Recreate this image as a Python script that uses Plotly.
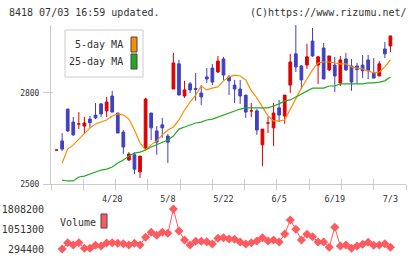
import plotly.graph_objects as go

W, H = 420, 259
def px(x): return x / W
def py(y): return 1 - y / H

# ---------------- data ----------------
day_idx = list(range(61))
opens  = [2612,2642,2747,2704,2698,2691,2714,2727,2764,2741,2790,2734,2671,2579,2596,2540,2619,2734,2675,2695,
          2658,2813,2896,2790,2830,2815,2800,2853,2882,2869,2912,2853,2826,2813,2793,2741,2741,2629,2701,2685,
          2751,2724,2826,2929,2889,2892,2971,2892,2948,2876,2892,2833,2912,2889,2889,2892,2909,2866,2856,2945,2955]
highs  = [2612,2668,2747,2721,2737,2721,2724,2767,2767,2787,2807,2734,2678,2605,2605,2592,2784,2734,2691,2718,
          2665,2932,2909,2840,2836,2866,2826,2882,2896,2922,2919,2859,2843,2843,2793,2767,2747,2681,2721,2767,
          2777,2793,2929,3024,2892,2962,3014,2922,2965,2922,2919,2922,2932,2912,2899,2925,2925,2915,2905,2968,2988]
lows   = [2612,2609,2671,2658,2681,2665,2685,2714,2721,2721,2737,2668,2599,2576,2533,2520,2615,2645,2596,2652,
          2569,2813,2793,2784,2800,2774,2760,2833,2826,2866,2843,2793,2767,2764,2718,2721,2662,2559,2668,2625,
          2704,2698,2800,2869,2813,2879,2919,2830,2846,2873,2803,2823,2873,2807,2830,2849,2846,2849,2856,2915,2935]
closes = [2612,2615,2675,2662,2698,2701,2702,2718,2731,2770,2737,2668,2622,2599,2549,2592,2780,2685,2638,2685,
          2638,2899,2793,2810,2810,2812,2787,2846,2836,2905,2859,2840,2813,2790,2737,2741,2678,2681,2701,2734,
          2727,2793,2902,2886,2843,2919,2922,2919,2846,2922,2856,2909,2876,2836,2877,2873,2873,2849,2896,2929,2988]

ma_idx = list(range(1, 61))
ma5  = [2569,2615,2629,2648,2668,2685,2698,2704,2711,2724,2731,2727,2714,2678,2635,2612,2629,2642,2662,2678,
        2688,2711,2744,2770,2793,2823,2810,2816,2820,2840,2853,2859,2856,2843,2807,2784,2754,2724,2708,2708,
        2711,2747,2780,2816,2846,2876,2899,2902,2902,2899,2896,2896,2886,2882,2879,2873,2866,2869,2886,2909]
ma25 = [2513,2510,2510,2523,2526,2533,2540,2546,2549,2556,2569,2579,2592,2602,2605,2612,2622,2629,2638,2645,
        2658,2681,2688,2695,2701,2704,2711,2714,2721,2727,2734,2741,2747,2751,2751,2751,2751,2751,2757,2764,
        2774,2777,2787,2797,2807,2816,2816,2816,2823,2823,2830,2830,2830,2830,2830,2833,2833,2836,2840,2853]

volume = [294400,532800,445800,532800,320900,320900,434400,407900,521500,532800,510100,495000,445800,510100,445800,
          737200,926400,812900,926400,888600,1808200,975600,635000,445800,585800,585800,570700,483600,699300,722100,
          672900,661500,559300,483600,532800,597200,722100,597200,635000,559300,862100,1391900,1039900,635000,850700,
          759900,559300,559300,358700,1115600,407900,445800,320900,407900,472300,547900,434400,445800,495000,358700]

date_labels = ["4/20", "5/8", "5/22", "6/5", "6/19", "7/3"]
date_label_idx = [10, 20, 30, 40, 50, 60]
price_ticks = [2500, 2800]
vol_ticks = [294400, 1051300, 1808200]

# ---------------- style ----------------
RED, BLUE = "#dd0000", "#4040c0"
ORANGE, GREEN = "#ff8c00", "#22aa22"
VOLC = "#ff5a5f"
AX = "#cccccc"
TXT = "#333333"
MONO = "DejaVu Sans Mono"
XR = [-1, 62.8]
XDOM = [px(51), px(406)]

fig = go.Figure()
fig.add_trace(go.Candlestick(
    x=day_idx, open=opens, high=highs, low=lows, close=closes,
    increasing=dict(line=dict(color=RED, width=1), fillcolor=RED),
    decreasing=dict(line=dict(color=BLUE, width=1), fillcolor=BLUE),
    whiskerwidth=0, xaxis="x", yaxis="y", hoverinfo="skip"))
fig.add_trace(go.Scatter(x=ma_idx, y=ma5, mode="lines", line=dict(color=ORANGE, width=1.2),
                         xaxis="x", yaxis="y", hoverinfo="skip"))
fig.add_trace(go.Scatter(x=ma_idx, y=ma25, mode="lines", line=dict(color=GREEN, width=1.2),
                         xaxis="x", yaxis="y", hoverinfo="skip"))
fig.add_trace(go.Scatter(x=ma_idx, y=volume, mode="lines+markers",
                         line=dict(color=VOLC, width=1),
                         marker=dict(symbol="diamond", size=7, color=VOLC, line=dict(width=0)),
                         cliponaxis=False, xaxis="x2", yaxis="y2", hoverinfo="skip"))
# invisible helper traces so that the overlay axes (tick marks / date labels) are drawn
for xa, ya in (("x3", "y"), ("x4", "y"), ("x", "y3")):
    fig.add_trace(go.Scatter(x=[date_label_idx[0]], y=[price_ticks[0]], mode="markers",
                             marker=dict(size=1, opacity=0), xaxis=xa, yaxis=ya, hoverinfo="skip"))

shapes = [
    dict(type="rect", xref="paper", yref="paper", x0=px(65), x1=px(143), y0=py(77), y1=py(30),
         line=dict(color=AX, width=1), fillcolor="white", layer="below"),
    dict(type="rect", xref="paper", yref="paper", x0=px(131), x1=px(137), y0=py(52), y1=py(37),
         line=dict(color="#444444", width=1), fillcolor=ORANGE),
    dict(type="rect", xref="paper", yref="paper", x0=px(131), x1=px(137), y0=py(69), y1=py(54),
         line=dict(color="#444444", width=1), fillcolor=GREEN),
    dict(type="rect", xref="paper", yref="paper", x0=px(101), x1=px(107), y0=py(228), y1=py(214),
         line=dict(color="#444444", width=1), fillcolor=VOLC),
]
annots = [
    dict(text="8418 07/03 16:59 updated.", x=px(7), y=py(12), xanchor="left", yanchor="middle"),
    dict(text="(C)https://www.rizumu.net/", x=px(409), y=py(12), xanchor="right", yanchor="middle"),
    dict(text="5-day MA", x=px(125), y=py(45), xanchor="right", yanchor="middle"),
    dict(text="25-day MA", x=px(125), y=py(62), xanchor="right", yanchor="middle"),
    dict(text="Volume", x=px(58), y=py(222), xanchor="left", yanchor="middle"),
]
for a in annots:
    a.update(xref="paper", yref="paper", showarrow=False, font=dict(family=MONO, size=10, color=TXT))

common_x = dict(range=XR, domain=XDOM, showgrid=False, zeroline=False, fixedrange=True)
fig.update_layout(
    width=W, height=H, margin=dict(l=0, r=0, t=0, b=0, autoexpand=False),
    paper_bgcolor="white", plot_bgcolor="white", showlegend=False,
    shapes=shapes, annotations=annots,
    xaxis=dict(**common_x, anchor="y", showline=True, linecolor=AX, linewidth=1,
               ticks="outside", ticklen=5, tickcolor=AX, tick0=XR[0], dtick=5.8,
               showticklabels=False, rangeslider=dict(visible=False)),
    xaxis3=dict(**common_x, anchor="y", overlaying="x", showline=False,
                ticks="inside", ticklen=5, tickcolor=AX, tick0=XR[0], dtick=5.8,
                showticklabels=False),
    xaxis4=dict(**common_x, anchor="y", overlaying="x", showline=False,
                tickmode="array", tickvals=date_label_idx, ticktext=date_labels,
                ticks="outside", ticklen=7, tickcolor="rgba(0,0,0,0)",
                tickfont=dict(family=MONO, size=8.5, color=TXT)),
    yaxis=dict(domain=[py(184), py(25)], range=[2500, 3024], anchor="x",
               showline=True, linecolor=AX, linewidth=1, showgrid=False, zeroline=False,
               tickmode="array", tickvals=price_ticks, ticks="outside", ticklen=7, tickcolor=AX,
               ticklabelstandoff=2, tickfont=dict(family=MONO, size=8, color=TXT), fixedrange=True),
    yaxis3=dict(domain=[py(184), py(25)], range=[2500, 3024], anchor="x", overlaying="y",
                showline=False, showgrid=False, zeroline=False,
                tickmode="array", tickvals=price_ticks, ticks="inside", ticklen=2, tickcolor=AX,
                showticklabels=False),
    xaxis2=dict(**common_x, anchor="y2", visible=False),
    yaxis2=dict(domain=[py(249), py(209)], range=[vol_ticks[0], vol_ticks[-1]], anchor="x2",
                showline=False, showgrid=False, zeroline=False,
                tickmode="array", tickvals=vol_ticks, ticktext=[str(v) for v in vol_ticks],
                ticks="outside", ticklen=4, tickcolor="rgba(0,0,0,0)",
                tickfont=dict(family=MONO, size=10, color=TXT), fixedrange=True),
)
fig.write_html("out.html", config={"displayModeBar": False})
